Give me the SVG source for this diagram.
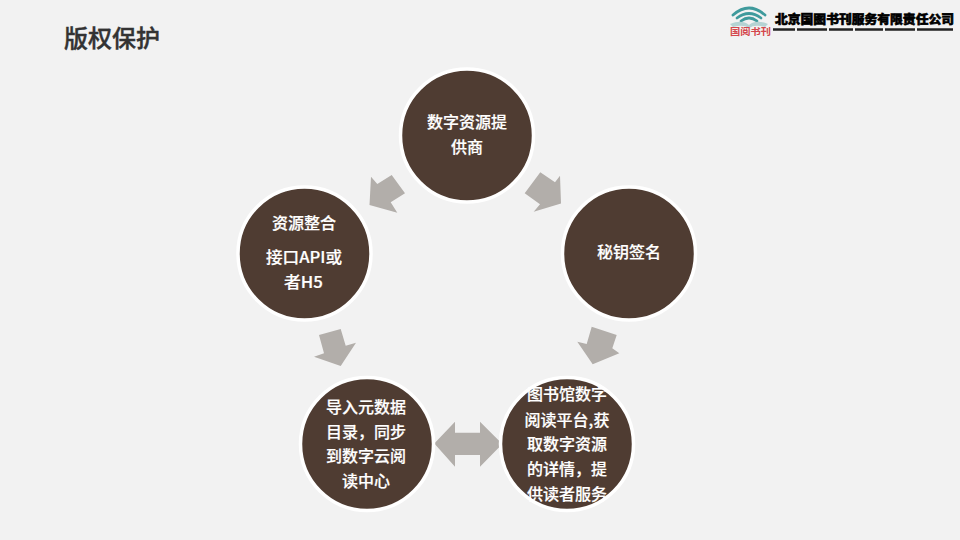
<svg xmlns="http://www.w3.org/2000/svg" width="960" height="540" viewBox="0 0 960 540">
<style>
.bg{fill:#f2f2f2}
.node{fill:#4f3c32;stroke:#fff;stroke-width:3.500}
.arrow{fill:#b2aeaa}
text{font-family:"Noto Sans CJK SC","Noto Sans",sans-serif}
.label{font-size:16px;font-weight:500;fill:#fff;stroke:#fff;stroke-width:.2;text-anchor:middle;dominant-baseline:central}
.title{font-size:24px;font-weight:500;fill:#333;stroke:#333;stroke-width:.4}
.co{font-size:12px;font-weight:900;fill:#000;stroke:#000;stroke-width:.6}
.brand{font-size:9.500px;font-weight:700;fill:#d4474c}
</style>
<rect class="bg" width="960" height="540"/>
<text class="title" x="64" y="47">版权保护</text>
<g id="logo">
<g fill="none" stroke="#3f9a9c" stroke-linecap="round">
<path d="M733 15Q749 1 765 15" stroke-width="2.800"/>
<path d="M737 18Q749 9 761 18" stroke-width="2.800"/>
<path d="M741 21Q749 15 757 21" stroke-width="2.800"/>
</g>
<path d="M730 24Q742 19 749 25Q756 19 768 24L765 27Q755 24 749 28Q743 24 733 27Z" fill="#b5d3d3"/>
<text class="brand" x="730" y="34.500" textLength="41" lengthAdjust="spacingAndGlyphs">国阅书刊</text>
<text class="co" x="775" y="24" textLength="179" lengthAdjust="spacingAndGlyphs">北京国图书刊服务有限责任公司</text>
<path d="M773 29.500H953" stroke="#222" stroke-width="2.400" stroke-dasharray="22 2 30 2 24 2 28 2 30 2 40 2"/>
</g>
<g id="connectors">
<polygon class="arrow" points="369.500,205 371,176.700 377.300,184 391.700,175 405,193.300 390.700,202.300 397.300,212.700"/>
<polygon class="arrow" points="561,203.500 560,175.700 555,182.300 540.300,172.300 524.700,193.300 540,204.300 533.700,211.700"/>
<polygon class="arrow" points="319,335 340.700,329 345.700,345.700 356,342.700 340.700,366 314,356.700 324,353.300"/>
<polygon class="arrow" points="591.700,326.700 616.700,335 612.300,348.300 619.300,353.300 592.700,364.300 577.300,341.700 586.700,344"/>
<polygon class="arrow" points="434.300,443.500 455,421.700 455,432.700 480,432.700 480,421.700 502.300,444 480,466.700 480,455 455,455 455,466.700"/>
</g>
<g id="node-provider">
<circle class="node" cx="467" cy="135.500" r="66.500"/>
<text class="label" x="467" y="121">数字资源提</text>
<text class="label" x="467" y="146">供商</text>
</g>
<g id="node-signature">
<circle class="node" cx="629" cy="253.500" r="66.500"/>
<text class="label" x="629" y="251">秘钥签名</text>
</g>
<g id="node-integration">
<circle class="node" cx="304.500" cy="253.500" r="66.500"/>
<text class="label" x="304" y="222">资源整合</text>
<text class="label" x="304" y="256" textLength="76" lengthAdjust="spacingAndGlyphs">接口API或</text>
<text class="label" x="303.500" y="281" textLength="39" lengthAdjust="spacingAndGlyphs">者H5</text>
</g>
<g id="node-import">
<circle class="node" cx="367" cy="444" r="66.500"/>
<text class="label" x="366" y="406">导入元数据</text>
<text class="label" x="366" y="431">目录，同步</text>
<text class="label" x="366" y="455">到数字云阅</text>
<text class="label" x="366" y="480">读中心</text>
</g>
<g id="node-library">
<circle class="node" cx="567" cy="444" r="66.500"/>
<text class="label" x="567" y="393">图书馆数字</text>
<text class="label" x="567" y="419">阅读平台,获</text>
<text class="label" x="567" y="443">取数字资源</text>
<text class="label" x="567" y="468">的详情，提</text>
<text class="label" x="567" y="493">供读者服务</text>
</g>
</svg>
